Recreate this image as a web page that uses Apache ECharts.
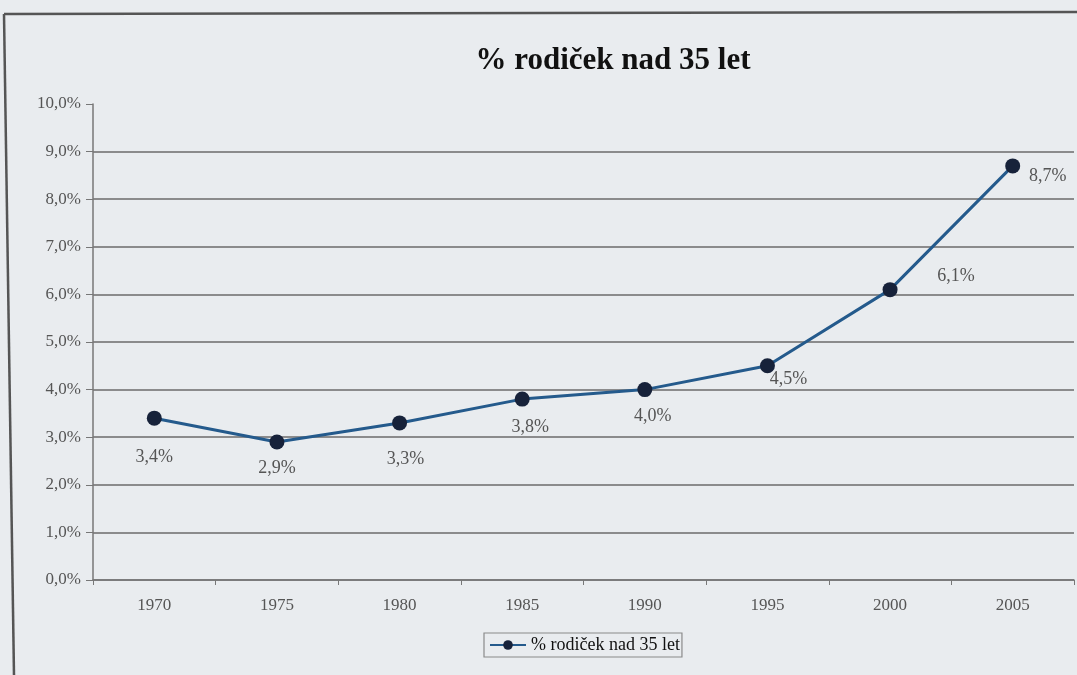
<!DOCTYPE html>
<html>
<head>
<meta charset="utf-8">
<script src="https://cdn.jsdelivr.net/npm/echarts@6/dist/echarts.min.js"></script>
<style>
html,body{margin:0;padding:0;background:#e9ecef;}
#chart{width:1077px;height:675px;}
</style>
</head>
<body>
<div id="chart"></div>
<script>
const years = ['1970','1975','1980','1985','1990','1995','2000','2005'];
const shares = [3.4, 2.9, 3.3, 3.8, 4.0, 4.5, 6.1, 8.7];
const seriesName = '% rodiček nad 35 let';
const titleText = '% rodiček nad 35 let';

// label placement offsets (dx, dy) relative to each point
const labelOffsets = [[0,39],[0,26],[6,36],[8,28],[8,27],[21,13],[66,-13],[35,10]];

const fmt = v => v.toFixed(1).replace('.', ',') + '%';

const chart = echarts.init(document.getElementById('chart'));
chart.setOption({
  backgroundColor: '#e9ecef',
  animation: false,
  title: {
    text: titleText,
    left: 608, textAlign: 'center', top: 40,
    textStyle: {fontFamily: 'Liberation Serif', fontWeight: 'bold', fontSize: 31, color: '#111'}
  },
  legend: {
    data: [seriesName],
    left: 484, top: 633,
    borderColor: '#8a8a8a', borderWidth: 1.2, borderRadius: 0,
    padding: [3, 2, 3, 5],
    itemWidth: 36, itemHeight: 12, itemGap: 4,
    textStyle: {fontFamily: 'Liberation Serif', fontSize: 18, color: '#111'}
  },
  grid: {left: 93, right: 3, top: 104, bottom: 95},
  xAxis: {
    type: 'category', data: years, boundaryGap: true,
    axisLine: {lineStyle: {color: '#777', width: 1.5}},
    axisTick: {show: true, length: 5, lineStyle: {color: '#777'}},
    axisLabel: {fontFamily: 'Liberation Serif', fontSize: 17, color: '#555', margin: 17}
  },
  yAxis: {
    type: 'value', min: 0, max: 10, interval: 1,
    axisLine: {show: true, lineStyle: {color: '#777', width: 1.5}},
    axisTick: {show: true, length: 7, lineStyle: {color: '#777'}},
    axisLabel: {fontFamily: 'Liberation Serif', fontSize: 17, color: '#555', margin: 12,
      formatter: v => v.toFixed(1).replace('.', ',') + '%'},
    splitLine: {show: true, showMaxLine: false, lineStyle: {color: '#6b6b6b', width: 1.5}}
  },
  series: [{
    name: seriesName,
    type: 'line',
    data: shares.map((v, i) => ({
      value: v,
      label: {offset: labelOffsets[i]}
    })),
    symbol: 'circle', symbolSize: 15,
    lineStyle: {color: '#245a8c', width: 3},
    itemStyle: {color: '#17223a'},
    label: {
      show: true, position: 'inside', align: 'center', verticalAlign: 'middle',
      fontFamily: 'Liberation Serif', fontSize: 18, color: '#555',
      formatter: p => fmt(p.value)
    }
  }],
  graphic: [
    {type: 'line', shape: {x1: 4, y1: 14, x2: 1077, y2: 12}, style: {stroke: '#555', lineWidth: 2.5}},
    {type: 'line', shape: {x1: 4, y1: 14, x2: 14, y2: 675}, style: {stroke: '#555', lineWidth: 2.5}}
  ]
});
</script>
</body>
</html>
